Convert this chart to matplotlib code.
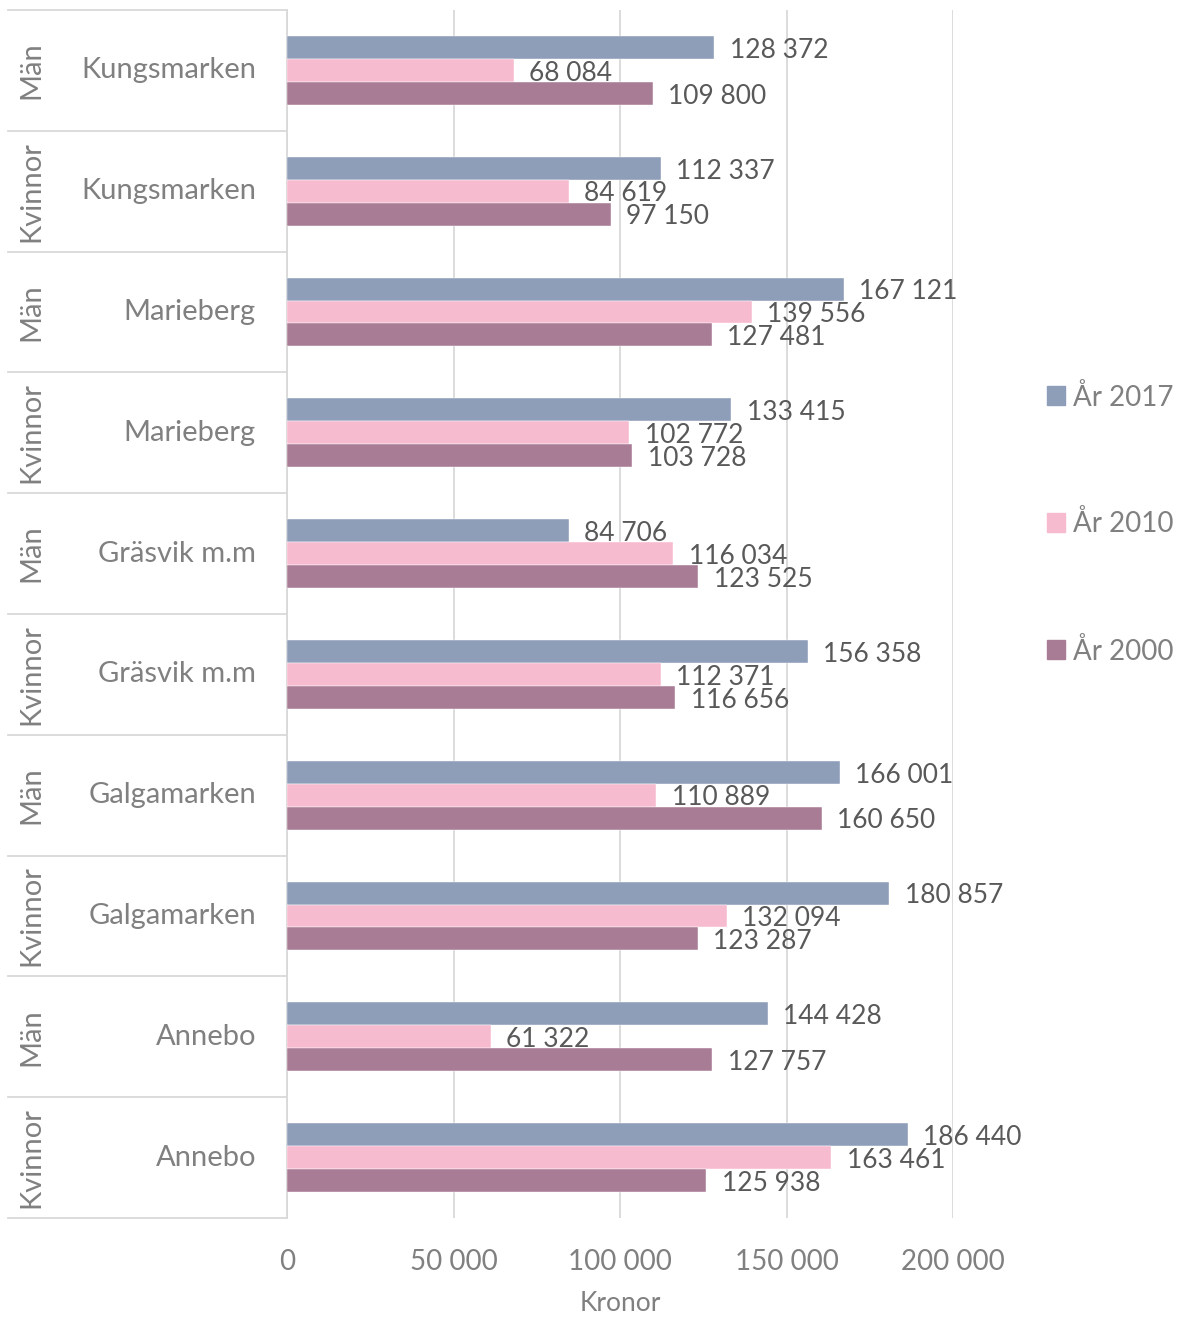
import numpy as np
import matplotlib.pyplot as plt
import matplotlib.transforms as mtransforms
from matplotlib.patches import Patch

plt.rcParams['font.family'] = ['Lato', 'DejaVu Sans']

# Data, top to bottom as shown in the chart
areas = ['Kungsmarken', 'Kungsmarken', 'Marieberg', 'Marieberg', 'Gräsvik m.m',
         'Gräsvik m.m', 'Galgamarken', 'Galgamarken', 'Annebo', 'Annebo']
sexes = ['Män', 'Kvinnor', 'Män', 'Kvinnor', 'Män',
         'Kvinnor', 'Män', 'Kvinnor', 'Män', 'Kvinnor']
y2017 = [128372, 112337, 167121, 133415, 84706, 156358, 166001, 180857, 144428, 186440]
y2010 = [68084, 84619, 139556, 102772, 116034, 112371, 110889, 132094, 61322, 163461]
y2000 = [109800, 97150, 127481, 103728, 123525, 116656, 160650, 123287, 127757, 125938]
series_names = ['År 2017', 'År 2010', 'År 2000']
colors = ['#8e9db8', '#f7bbd0', '#a87c94']
xticks = [0, 50000, 100000, 150000, 200000]

label_gray = '#808080'
value_gray = '#595959'
line_gray = '#d9d9d9'


def fmt(v):
    return f'{v:,}'.replace(',', ' ')


fig = plt.figure(figsize=(11.82, 13.17), dpi=100)
ax = fig.add_axes([287 / 1182, 1 - 1218 / 1317, (953 - 287) / 1182, (1218 - 10) / 1317])

n = len(areas)
pos = np.arange(n)
bw = 0.19
series = [y2017, y2010, y2000]
for i, (vals, c) in enumerate(zip(series, colors)):
    yy = pos + (i - 1) * bw
    ax.barh(yy, vals, height=bw, color=c, edgecolor='white', linewidth=0.3, zorder=3)
    for y, v in zip(yy, vals):
        ax.annotate(fmt(v), (v, y), xytext=(11, -2), textcoords='offset points',
                    va='center', ha='left', fontsize=19, color=value_gray, zorder=4)

ax.set_xlim(0, 200000)
ax.set_ylim(n - 0.5, -0.5)
ax.set_xticks(xticks)
ax.set_xticklabels([fmt(t) for t in xticks], fontsize=20, color=label_gray)
ax.tick_params(axis='x', length=0, pad=22)
ax.set_yticks([])
ax.grid(axis='x', color=line_gray, linewidth=1.3, zorder=0)
for s in ['top', 'right', 'bottom']:
    ax.spines[s].set_visible(False)
ax.spines['left'].set_color(line_gray)
ax.spines['left'].set_linewidth(1.3)
ax.set_xlabel('Kronor', fontsize=19, color=label_gray, labelpad=12)

# category table on the left
trans = mtransforms.blended_transform_factory(ax.transAxes, ax.transData)
x_left = (8 - 287) / (953 - 287)
for b in np.arange(n + 1) - 0.5:
    ax.plot([x_left, 0], [b, b], color=line_gray, linewidth=1.3,
            transform=trans, clip_on=False)
for p, a, s in zip(pos, areas, sexes):
    ax.text((256 - 287) / (953 - 287), p, a, transform=trans, ha='right', va='center',
            fontsize=21, color=label_gray)
    ax.text((31 - 287) / (953 - 287), p, s, transform=trans, ha='center', va='center',
            rotation=90, fontsize=21, color=label_gray)

handles = [Patch(color=c) for c in colors]
fig.legend(handles, series_names, loc='center left', bbox_to_anchor=(1033 / 1182, 1 - 524 / 1317),
           frameon=False, fontsize=20, labelcolor=label_gray, labelspacing=3.6,
           handlelength=0.65, handleheight=0.65, handletextpad=0.3, borderpad=0)

fig.savefig('out.png', dpi=100)
